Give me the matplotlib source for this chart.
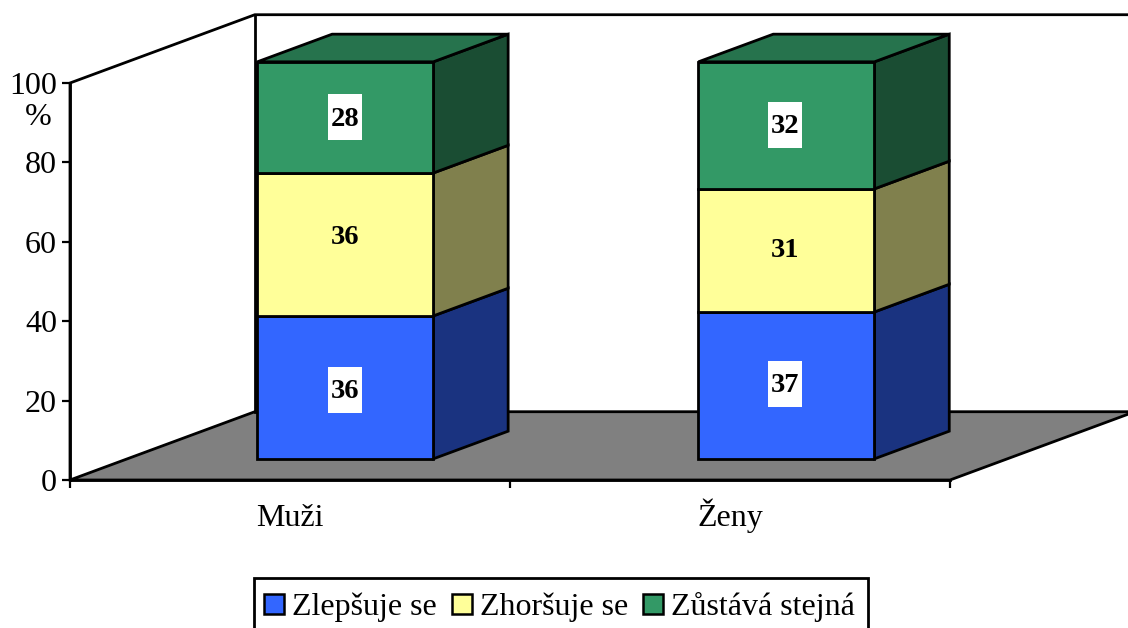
import matplotlib
matplotlib.use('Agg')
import matplotlib.pyplot as plt
from matplotlib.patches import Polygon, Patch, Rectangle

plt.rcParams['font.family'] = ['Liberation Serif', 'DejaVu Serif']

categories = ['Muži', 'Ženy']
series_names = ['Zlepšuje se', 'Zhoršuje se', 'Zůstává stejná']
values = [[36, 37], [36, 31], [28, 32]]
front_colors = ['#3366FF', '#FFFF99', '#339966']
side_colors = ['#1A3380', '#80804D', '#1A4D33']
top_colors = ['#264DBF', '#BFBF73', '#26734D']
y_ticks = [0, 20, 40, 60, 80, 100]

# oblique projection of the 3d box, in data units
depth_x = 0.42
depth_y = 17.2
bar_centers = [0.4955, 1.498]
bar_width = 0.4
bar_d0 = 0.31
bar_d1 = 0.715
lw = 2.0

# label nudges from the middle of each front face (x in categories, y in percent)
label_dx = [0.0, -0.003]
label_dy = [[-0.6, 0.4], [2.3, 0.5], [0.0, 0.1]]
label_box = [True, False, True]
box_w = 34 / 440
box_h = 46 / 3.97


def proj(x, y, d):
    return (x + d * depth_x, y + d * depth_y)


fig = plt.figure(figsize=(11.28, 6.28), dpi=100)
ax = fig.add_axes([70 / 1128, 1 - 480 / 628, 880 / 1128, 397 / 628])
ax.set_xlim(0, 2)
ax.set_ylim(0, 100)
ax.patch.set_visible(False)

# floor and walls
floor = [proj(0, 0, 0), proj(0, 0, 1), proj(2, 0, 1), proj(2, 0, 0)]
ax.add_patch(Polygon(floor, closed=True, fc='#808080', ec='black', lw=lw, clip_on=False, zorder=1))
wall = [proj(0, 0, 0), proj(0, 100, 0), proj(0, 100, 1), proj(2, 100, 1)]
ax.plot(*zip(*wall), color='black', lw=lw, clip_on=False, zorder=1)
ax.plot(*zip(proj(0, 0, 1), proj(0, 100, 1)), color='black', lw=lw, clip_on=False, zorder=1)

# stacked boxes
for i, cat in enumerate(categories):
    x0 = bar_centers[i] - bar_width / 2
    x1 = x0 + bar_width
    base = 0
    for s, name in enumerate(series_names):
        v = values[s][i]
        top = base + v
        front = [proj(x0, base, bar_d0), proj(x1, base, bar_d0), proj(x1, top, bar_d0), proj(x0, top, bar_d0)]
        side = [proj(x1, base, bar_d0), proj(x1, base, bar_d1), proj(x1, top, bar_d1), proj(x1, top, bar_d0)]
        ax.add_patch(Polygon(side, closed=True, fc=side_colors[s], ec='black', lw=lw, clip_on=False, zorder=3))
        ax.add_patch(Polygon(front, closed=True, fc=front_colors[s], ec='black', lw=lw, clip_on=False, zorder=3))
        if s == len(series_names) - 1:
            lid = [proj(x0, top, bar_d0), proj(x1, top, bar_d0), proj(x1, top, bar_d1), proj(x0, top, bar_d1)]
            ax.add_patch(Polygon(lid, closed=True, fc=top_colors[s], ec='black', lw=lw, clip_on=False, zorder=3))
        lx, ly = proj(bar_centers[i] + label_dx[i], base + v / 2 + label_dy[s][i], bar_d0)
        if label_box[s]:
            ax.add_patch(Rectangle((lx - box_w / 2, ly - box_h / 2), box_w, box_h, fc='white', ec='none', zorder=4))
        ax.text(lx, ly + 0.25, str(v), ha='center', va='center_baseline', fontsize=20.5, fontweight='bold', zorder=5)
        base = top

# axes
for side_name in ['top', 'right']:
    ax.spines[side_name].set_visible(False)
for side_name in ['left', 'bottom']:
    ax.spines[side_name].set_linewidth(lw)
    ax.spines[side_name].set_zorder(2)
ax.set_yticks(y_ticks)
ax.tick_params(axis='y', labelsize=23, length=5.8, width=1.6, pad=3.5)
ax.set_xticks([0, 1, 2])
ax.set_xticklabels([])
ax.tick_params(axis='x', length=6, width=1.6)
for i, cat in enumerate(categories):
    ax.annotate(cat, xy=(i + 0.5, 0), xycoords='data', xytext=(0, -33), textcoords='offset points',
                ha='center', va='baseline', fontsize=23, annotation_clip=False)
ax.text(-0.0727, 91.3, '%', ha='center', va='center', fontsize=23)

# legend box runs off the bottom of the picture, frame drawn by hand
fig.add_artist(Rectangle((254 / 1128, -10 / 628), 614 / 1128, 60 / 628, transform=fig.transFigure,
                         fc='white', ec='black', lw=lw))
handles = [Patch(fc=c, ec='black', lw=1.8) for c in front_colors]
leg = fig.legend(handles, series_names, loc='lower center', bbox_to_anchor=(559.5 / 1128, -0.006), ncols=3,
                 fontsize=23, frameon=False,
                 handlelength=0.62, handleheight=0.62, handletextpad=0.25, columnspacing=0.47,
                 borderpad=0.3, borderaxespad=0)
leg.set_zorder(5)

fig.savefig('out.png', dpi=100)
